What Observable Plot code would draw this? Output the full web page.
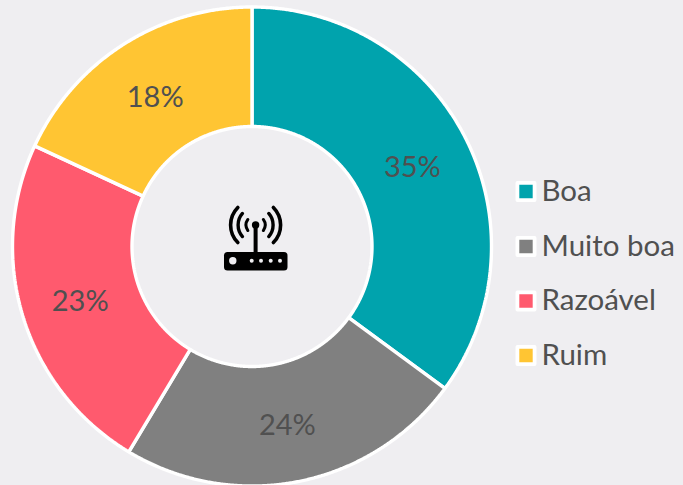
<!DOCTYPE html>
<html>
<head>
<meta charset="utf-8">
<script src="https://cdn.jsdelivr.net/npm/d3@7"></script>
<script src="https://cdn.jsdelivr.net/npm/@observablehq/plot@0.6"></script>
<style>
  html, body { margin: 0; padding: 0; background: #efeef1; }
  svg { display: block; }
</style>
</head>
<body>
<div id="chart"></div>
<script>
const categories = ["Boa", "Muito boa", "Razoável", "Ruim"];
const shares = [35.1, 23.5, 23.3, 18.1];
const colors = ["#00a3ad", "#808080", "#ff5a6e", "#ffc533"];

const W = 683, H = 485;
const cx = 251.5, cy = 246, R0 = 120, R1 = 239.5;
const textColor = "#505050";
const font = "Lato, 'Open Sans', sans-serif";

const pie = d3.pie().sort(null).value(d => d.share)(
  categories.map((name, i) => ({ name, share: shares[i] }))
);
const polar = (a, r) => [cx + r * Math.sin(a), cy - r * Math.cos(a)];

// Each ring sector is traced as a closed outline in the chart's x/y scales.
const outline = pie.flatMap(s => {
  const n = Math.ceil((s.endAngle - s.startAngle) / 0.005);
  const angles = d3.range(n + 1).map(i => s.startAngle + (s.endAngle - s.startAngle) * i / n);
  const ring = [...angles.map(a => polar(a, R1)), ...angles.reverse().map(a => polar(a, R0))];
  return ring.map(([x, y]) => ({ name: s.data.name, x, y }));
});

const labels = pie.map(s => {
  const [x, y] = polar((s.startAngle + s.endAngle) / 2, (R0 + R1) / 2);
  return { x, y, text: Math.round(s.data.share) + "%" };
});

const legendX = 525.5, legendY = [191, 246, 300.5, 355];
const legend = categories.map((name, i) => ({ name, y: legendY[i] }));

function routerIcon() {
  const g = d3.create("svg:g").attr("fill", "#000").attr("stroke", "none");
  g.append("rect").attr("x", 224).attr("y", 252).attr("width", 63.5).attr("height", 18.5).attr("rx", 3.5);
  g.append("rect").attr("x", 253.6).attr("y", 226).attr("width", 4).attr("height", 27);
  g.append("circle").attr("cx", 255.6).attr("cy", 225).attr("r", 3.7);
  g.append("circle").attr("cx", 232.8).attr("cy", 260.8).attr("r", 3.7).attr("fill", "#efeef1");
  [251.7, 261, 270.7, 280].forEach(x =>
    g.append("circle").attr("cx", x).attr("cy", 260.8).attr("r", 2).attr("fill", "#efeef1"));
  [[9.5, 0.62, 3], [17.5, 0.72, 3.4], [25, 0.78, 3.6]].forEach(([r, t, sw]) => {
    [1, -1].forEach(side => {
      const arc = d3.path();
      arc.arc(255.6, 225, r, side > 0 ? -t : Math.PI - t, side > 0 ? t : Math.PI + t);
      g.append("path").attr("d", arc.toString()).attr("fill", "none")
        .attr("stroke", "#000").attr("stroke-width", sw).attr("stroke-linecap", "round");
    });
  });
  return g.node();
}

const chart = Plot.plot({
  width: W,
  height: H,
  margin: 0,
  style: { background: "#efeef1", fontFamily: font },
  x: { domain: [0, W], range: [0, W], axis: null },
  y: { domain: [0, H], range: [0, H], axis: null },
  color: { domain: categories, range: colors },
  marks: [
    Plot.line(outline, {
      x: "x", y: "y", z: "name",
      fill: "name", stroke: "#ffffff", strokeWidth: 3.4,
      curve: "linear-closed", strokeLinejoin: "miter"
    }),
    Plot.text(labels, {
      x: "x", y: "y", text: "text", dy: 2.5,
      fontSize: 29, fill: textColor, fontFamily: font
    }),
    routerIcon,
    Plot.dot(legend, {
      x: () => legendX, y: "y", symbol: "square", r: 9.7,
      fill: "name", stroke: "#ffffff", strokeWidth: 3.8, strokeLinejoin: "round"
    }),
    Plot.text(legend, {
      x: () => 541, y: "y", text: "name", textAnchor: "start",
      fontSize: 29.5, fill: textColor, fontFamily: font
    })
  ]
});
document.getElementById("chart").append(chart);
</script>
</body>
</html>
